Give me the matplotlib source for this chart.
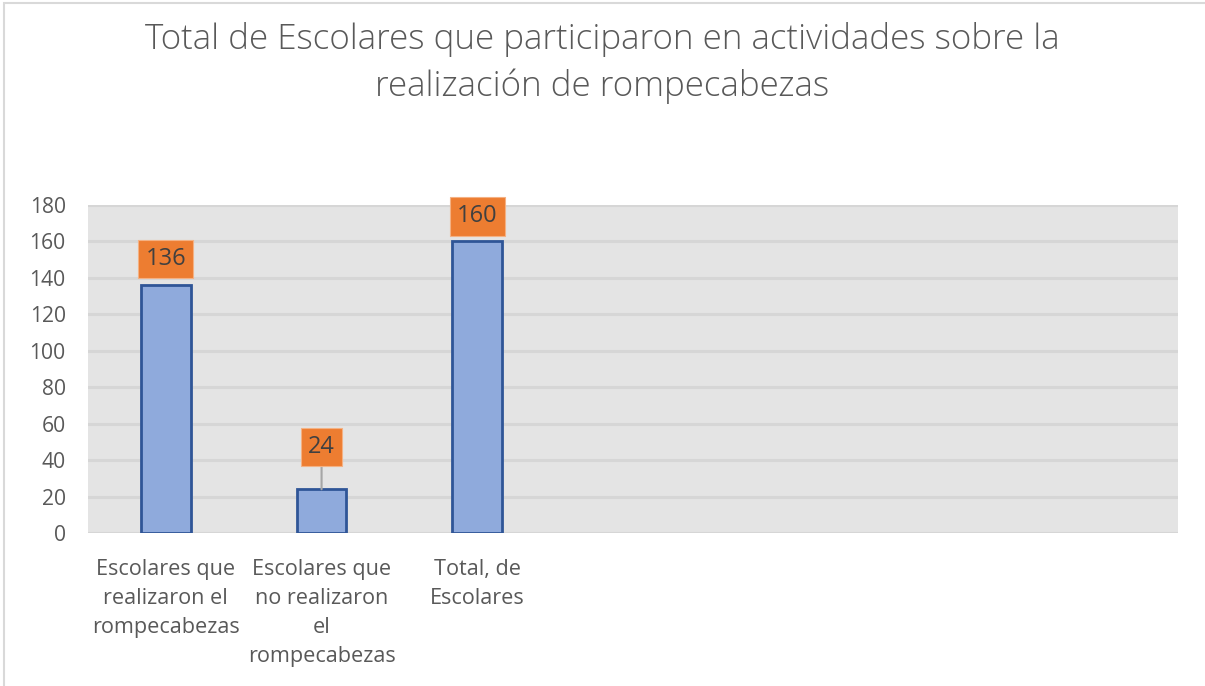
import matplotlib
matplotlib.use("Agg")
import matplotlib.pyplot as plt
from matplotlib.patches import Rectangle

categories = ["Escolares que\nrealizaron el\nrompecabezas",
              "Escolares que\nno realizaron\nel\nrompecabezas",
              "Total, de\nEscolares", "", "", "", ""]
values = [136, 24, 160]
y_ticks = [0, 20, 40, 60, 80, 100, 120, 140, 160, 180]
label_offsets = [26, 42, 25]  # pixel offset of label box centre above bar

plt.rcParams['font.family'] = ['Open Sans', 'DejaVu Sans']

fig = plt.figure(figsize=(12.05, 6.86), dpi=100)
fig.patches.append(Rectangle((0.003, -0.01), 1.1, 1.005, transform=fig.transFigure,
                             fill=False, edgecolor='#D9D9D9', linewidth=1.5))
ax = fig.add_axes([88/1205, (686-533)/686, (1178-88)/1205, (533-205)/686])
ax.set_facecolor('#E4E4E4')

x = list(range(len(categories)))
ax.bar(x[:len(values)], values, width=0.32, color='#8FAADC', edgecolor='#2F5597',
       linewidth=2, zorder=3)

ax.set_xlim(-0.5, len(categories) - 0.5)
ax.set_ylim(0, 180)
ax.set_yticks(y_ticks)
ax.set_xticks(x)
ax.set_xticklabels(categories, fontsize=15.6, color='#595959', linespacing=1.5)
ax.tick_params(axis='y', labelsize=15.2, labelcolor='#595959', length=0, pad=16)
ax.tick_params(axis='x', length=0, pad=19)
ax.grid(axis='y', color='#D6D6D6', linewidth=2.2, zorder=0)
ax.set_axisbelow(True)
for s in ax.spines.values():
    s.set_visible(False)

for i, v in enumerate(values):
    ax.annotate(str(v), xy=(i, v), xytext=(0, label_offsets[i] * 0.72),
                textcoords='offset points', ha='center', va='center',
                fontsize=17, color='#404040',
                bbox=dict(boxstyle='square,pad=0.3', facecolor='#ED7D31',
                          edgecolor='#F4B183', linewidth=0.8),
                arrowprops=dict(arrowstyle='-', color='#A6A6A6', lw=1.5,
                                shrinkA=0, shrinkB=0) if label_offsets[i] > 35 else None,
                zorder=5)

fig.text(0.5, 1 - 63/686, "Total de Escolares que participaron en actividades sobre la\nrealización de rompecabezas",
         ha='center', va='center', fontsize=25.2, color='#595959', linespacing=1.4,
         fontweight='light')

fig.savefig("out.png", dpi=100)
